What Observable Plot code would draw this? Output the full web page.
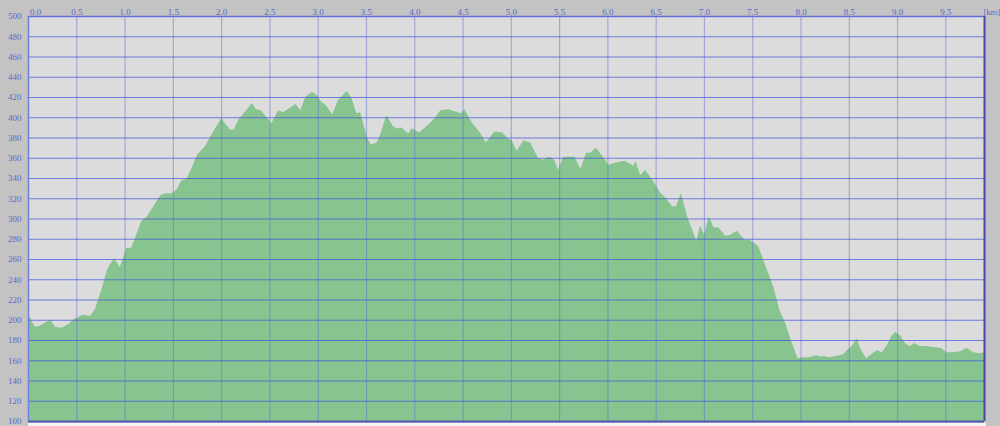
<!DOCTYPE html>
<html>
<head>
<meta charset="utf-8">
<script src="https://cdn.jsdelivr.net/npm/d3@7"></script>
<script src="https://cdn.jsdelivr.net/npm/@observablehq/plot@0.6"></script>
<style>
  html, body { margin: 0; padding: 0; background: #c3c3c3; }
  #wrap { position: relative; width: 1000px; height: 426px; overflow: hidden; }
  #strip { position: absolute; left: 28px; top: 423px; width: 958px; height: 3px; background: #f4f4f4; }
  svg { display: block; }
</style>
</head>
<body>
<div id="wrap"><div id="chart"></div><div id="strip"></div></div>
<script>
// distance along route (km)
const distanceKm = [
  0.00, 0.02, 0.07, 0.12, 0.23, 0.28, 0.35, 0.42, 0.48, 0.57, 0.64, 0.69, 0.76, 0.82, 0.89, 0.95,
  1.02, 1.07, 1.17, 1.23, 1.37, 1.42, 1.49, 1.54, 1.59, 1.64, 1.69, 1.75, 1.83, 1.90, 2.00,
  2.09, 2.13, 2.18, 2.25, 2.32, 2.36, 2.41, 2.47, 2.52, 2.59, 2.64, 2.77, 2.82, 2.87, 2.94, 2.99,
  3.02, 3.09, 3.15, 3.21, 3.30, 3.35, 3.40, 3.44, 3.51, 3.55, 3.61, 3.65, 3.71, 3.78, 3.82, 3.87,
  3.90, 3.94, 3.97, 4.00, 4.05, 4.16, 4.21, 4.27, 4.35, 4.42, 4.48, 4.52, 4.60, 4.68, 4.74, 4.83,
  4.91, 4.97, 5.01, 5.06, 5.13, 5.20, 5.28, 5.33, 5.40, 5.45, 5.49, 5.54, 5.66, 5.72, 5.78, 5.82,
  5.88, 5.96, 6.01, 6.08, 6.18, 6.27, 6.29, 6.34, 6.39, 6.46, 6.55, 6.60, 6.67, 6.71, 6.76, 6.83,
  6.92, 6.96, 7.00, 7.05, 7.10, 7.15, 7.22, 7.27, 7.34, 7.42, 7.47, 7.56, 7.65, 7.72, 7.78, 7.84,
  7.91, 7.97, 8.03, 8.08, 8.16, 8.20, 8.25, 8.30, 8.35, 8.44, 8.49, 8.53, 8.58, 8.62, 8.68, 8.73,
  8.79, 8.84, 8.89, 8.94, 8.98, 9.03, 9.08, 9.13, 9.18, 9.23, 9.30, 9.37, 9.46, 9.51, 9.58, 9.65,
  9.72, 9.79, 9.85, 9.90
];
// elevation (m)
const elevationM = [
  207, 202, 193, 194, 200, 193, 192, 196, 201, 205, 204, 210, 230, 250, 261, 252,
  271, 271, 297, 302, 323, 325, 325, 329, 338, 339, 349, 363, 371, 383, 399,
  388, 388, 398, 406, 414, 408, 407, 400, 394, 407, 405, 413, 407, 420, 425, 422,
  417, 411, 403, 417, 426, 419, 404, 405, 380, 373, 375, 384, 402, 391, 389, 390,
  387, 384, 389, 388, 385, 394, 399, 407, 408, 406, 404, 408, 394, 385, 375, 386,
  385, 379, 377, 367, 377, 375, 360, 358, 361, 358, 348, 361, 361, 349, 365, 365,
  370, 360, 353, 355, 357, 352, 357, 343, 348, 339, 325, 321, 312, 312, 325, 301,
  278, 293, 284, 302, 291, 291, 283, 284, 288, 279, 279, 273, 250, 232, 210, 197,
  177, 162, 163, 163, 165, 164, 164, 163, 164, 166, 171, 174, 182, 171, 162, 166,
  170, 168, 174, 184, 188, 185, 177, 174, 177, 174, 174, 173, 172, 168, 168, 169,
  172, 168, 167, 168
];
// tick labels
const xTicks = [0.0, 0.5, 1.0, 1.5, 2.0, 2.5, 3.0, 3.5, 4.0, 4.5, 5.0, 5.5, 6.0, 6.5, 7.0, 7.5, 8.0, 8.5, 9.0, 9.5];
const yTicks = [100, 120, 140, 160, 180, 200, 220, 240, 260, 280, 300, 320, 340, 360, 380, 400, 420, 440, 460, 480, 500];
const xUnit = "[km]";

const profile = distanceKm.map((d, i) => ({km: d, m: elevationM[i]}));
const labelColor = "#5a68c8";
const fontFam = "'Liberation Serif', 'DejaVu Serif', serif";

const chart = Plot.plot({
  width: 1000,
  height: 426,
  marginLeft: 28,
  marginRight: 16,
  marginTop: 16,
  marginBottom: 5,
  style: {background: "transparent", fontFamily: fontFam},
  x: {domain: [0, 9.9], axis: null},
  y: {domain: [100, 500], axis: null},
  marks: [
    Plot.frame({fill: "#dcdcdc", stroke: null}),
    Plot.areaY(profile, {x: "km", y: "m", y1: 100, fill: "#88c490", curve: "linear"}),
    Plot.ruleX(xTicks.filter(d => d > 0), {stroke: "#5a6ad0", strokeOpacity: 0.45, strokeWidth: 1.2}),
    Plot.ruleY(yTicks.filter(d => d > 100 && d < 500), {stroke: "#3e52dc", strokeOpacity: 0.7, strokeWidth: 1.2}),
    // frame edges
    Plot.ruleX([0], {stroke: "#7080d8", strokeWidth: 1.5}),
    Plot.ruleY([500], {stroke: "#6070d8", strokeWidth: 1.5}),
    Plot.ruleX([9.9], {stroke: "#4848a8", strokeWidth: 2}),
    Plot.ruleY([100], {stroke: "#5058b8", strokeWidth: 2}),
    // top x labels
    Plot.text(xTicks.filter(d => d === 0), {x: d => d, frameAnchor: "top", dy: -8, dx: 7, text: d => d3.format(".1f")(d), fill: labelColor, fontSize: 9}),
    Plot.text(xTicks.filter(d => d > 0), {x: d => d, frameAnchor: "top", dy: -8, text: d => d3.format(".1f")(d), fill: labelColor, fontSize: 9}),
    Plot.text([xUnit], {frameAnchor: "top-right", dx: 15.5, dy: -8, textAnchor: "end", text: d => d, fill: labelColor, fontSize: 8.5}),
    // left y labels
    Plot.text(yTicks, {y: d => d, frameAnchor: "left", dx: -7, textAnchor: "end", text: d => String(d), fill: labelColor, fontSize: 9})
  ]
});
document.getElementById("chart").appendChild(chart);
</script>
</body>
</html>
